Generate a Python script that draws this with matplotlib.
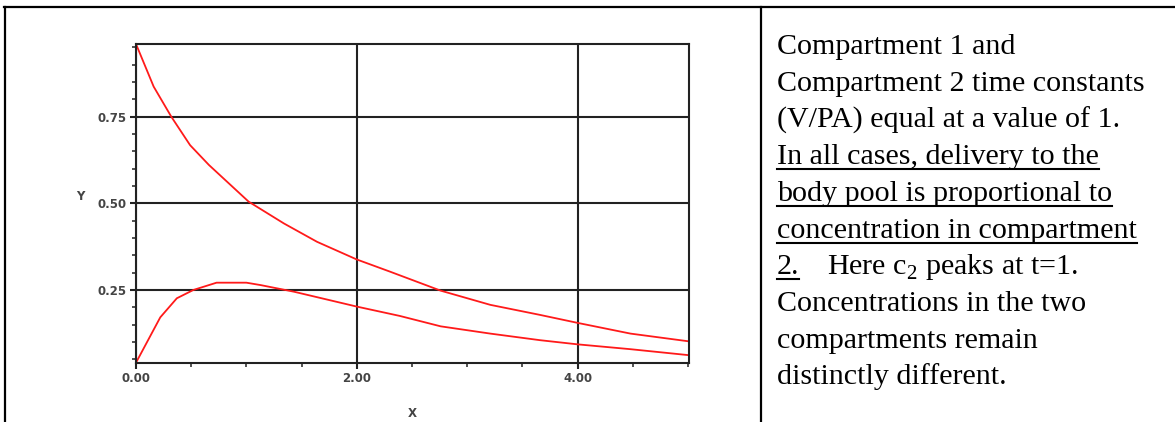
import matplotlib

matplotlib.use("Agg")
import matplotlib.pyplot as plt
from matplotlib.lines import Line2D
from matplotlib.ticker import MultipleLocator, FixedLocator

plt.rcParams["mathtext.fontset"] = "custom"
plt.rcParams["mathtext.rm"] = "Liberation Serif"

# curve values
t_upper = [0.0, 0.16, 0.32, 0.49, 0.66, 0.84, 1.02, 1.34, 1.64, 2.0, 2.3,
           2.76, 3.21, 3.66, 4.0, 4.48, 5.0]
c_upper = [0.96, 0.837, 0.75, 0.668, 0.611, 0.558, 0.505, 0.442, 0.389,
           0.338, 0.303, 0.248, 0.207, 0.178, 0.155, 0.124, 0.102]

t_lower = [0.0, 0.22, 0.37, 0.52, 0.73, 1.0, 1.13, 1.43, 2.0, 2.39, 2.76,
           3.21, 3.66, 4.0, 4.48, 5.0]
c_lower = [0.04, 0.171, 0.226, 0.25, 0.271, 0.271, 0.264, 0.245, 0.202,
           0.175, 0.145, 0.124, 0.105, 0.093, 0.079, 0.062]

x_ticks = [0.0, 2.0, 4.0]
x_tick_labels = ["0.00", "2.00", "4.00"]
y_ticks = [0.25, 0.50, 0.75]
y_tick_labels = ["0.25", "0.50", "0.75"]

# right-hand cell text: (text, underlined)
text_lines = [
    ("Compartment 1 and", False),
    ("Compartment 2 time constants", False),
    ("(V/PA) equal at a value of 1.", False),
    ("In all cases, delivery to the", True),
    ("body pool is proportional to", True),
    ("concentration in compartment", True),
    ("2.", True),
    ("Concentrations in the two", False),
    ("compartments remain", False),
    ("distinctly different.", False),
]
line7_rest = r"Here c$_{2}$ peaks at t=1."

W, H = 1175, 422
fig = plt.figure(figsize=(W / 100, H / 100), dpi=100)
fig.patch.set_facecolor("white")

# table borders
top_y = 1 - 7 / H
fig.add_artist(Line2D([4 / W, 1], [top_y, top_y], color="black", lw=1.6))
fig.add_artist(Line2D([4.5 / W, 4.5 / W], [0, top_y], color="black", lw=1.6))
fig.add_artist(Line2D([761 / W, 761 / W], [0, top_y], color="black", lw=1.6))

# plot
ax = fig.add_axes([136 / W, (H - 362.7) / H, 553 / W, 318.7 / H])
ax.plot(t_upper, c_upper, color="#ff1a1a", lw=1.3)
ax.plot(t_lower, c_lower, color="#ff1a1a", lw=1.3)
ax.set_xlim(0, 5.01)
ax.set_ylim(0.04, 0.96)

ax.xaxis.set_major_locator(FixedLocator(x_ticks))
ax.set_xticklabels(x_tick_labels)
ax.xaxis.set_minor_locator(MultipleLocator(0.5))
ax.yaxis.set_major_locator(FixedLocator(y_ticks))
ax.set_yticklabels(y_tick_labels)
ax.yaxis.set_minor_locator(MultipleLocator(0.05))

ax.grid(True, which="major", color="#222222", lw=1.5)
for s in ax.spines.values():
    s.set_color("#222222")
    s.set_linewidth(1.5)
ax.tick_params(which="major", direction="out", length=4, width=1.5,
               color="#222222", labelsize=8.5, labelcolor="#444444", pad=2.5)
ax.tick_params(which="minor", direction="out", length=3, width=1.2,
               color="#333333")
for lab in ax.get_xticklabels() + ax.get_yticklabels():
    lab.set_fontweight("bold")

ax.set_xlabel("X", fontsize=8.5, color="#444444", fontweight="bold")
ax.xaxis.set_label_coords(0.5, -0.14)
ax.set_ylabel("Y", fontsize=8.5, color="#444444", rotation=0,
              fontweight="bold")
ax.yaxis.set_label_coords(-0.101, 0.5)

# text cell
x0 = 776.7
base0 = 54.0
step = 36.7
fs = 21.6
texts = []
for i, (s, ul) in enumerate(text_lines):
    yb = 1 - (base0 + i * step) / H
    t = fig.text(x0 / W, yb, s, fontsize=fs, family="Liberation Serif",
                 va="baseline", ha="left", color="black")
    texts.append((t, ul, yb))
fig.text(827 / W, 1 - (base0 + 6 * step) / H, line7_rest, fontsize=fs,
         family="Liberation Serif", va="baseline", ha="left", color="black")

fig.canvas.draw()
renderer = fig.canvas.get_renderer()
for t, ul, yb in texts:
    if not ul:
        continue
    bb = t.get_window_extent(renderer)
    uy = yb - 5 / H
    fig.add_artist(Line2D([bb.x0 / W, bb.x1 / W], [uy, uy], color="black",
                          lw=1.5))

fig.savefig("out.png", dpi=100)
